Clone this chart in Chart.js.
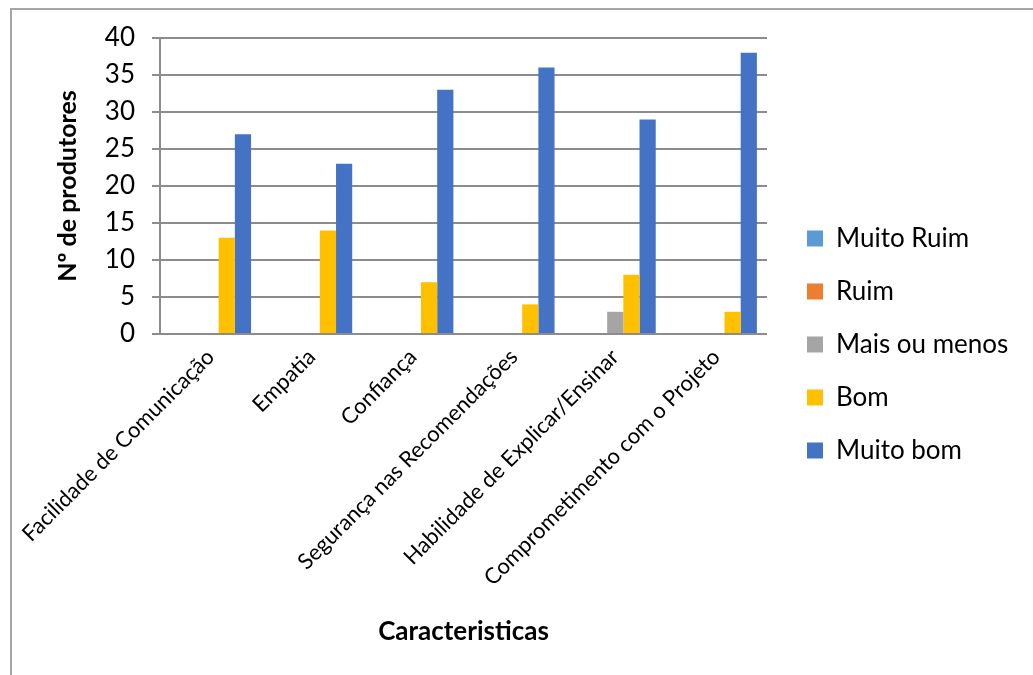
<!DOCTYPE html>
<html>
<head>
<meta charset="utf-8">
<script src="https://cdn.jsdelivr.net/npm/chart.js@4.4.0/dist/chart.umd.min.js"></script>
<style>
  html, body { margin: 0; padding: 0; background: #fff; }
  #wrap { position: relative; width: 1033px; height: 675px; overflow: hidden; }
  #frame { position: absolute; left: 10px; top: 8px; width: 1100px; height: 800px; border: 2px solid #a6a6a6; box-sizing: border-box; }
  canvas { position: absolute; left: 0; top: 0; }
</style>
</head>
<body>
<div id="wrap">
  <div id="frame"></div>
  <canvas id="chartGrafico" width="1033" height="675"></canvas>
</div>
<script>
const categorias = ['Facilidade de Comunicação', 'Empatia', 'Confiança', 'Segurança nas Recomendações', 'Habilidade de Explicar/Ensinar', 'Comprometimento com o Projeto'];
const muitoRuim = [0, 0, 0, 0, 0, 0];
const ruim = [0, 0, 0, 0, 0, 0];
const maisOuMenos = [0, 0, 0, 0, 3, 0];
const bom = [13, 14, 7, 4, 8, 3];
const muitoBom = [27, 23, 33, 36, 29, 38];

const cinza = '#8c8c8c';

// legenda com largura fixa, como no original
const legendaFixa = {
    id: 'legendaFixa',
    beforeInit(chart) {
        const fitOrig = chart.legend.fit;
        chart.legend.fit = function () {
            fitOrig.bind(this)();
            this.width = 266;
        };
    },
    afterLayout(chart) {
        chart.legend.left += 13;
        chart.legend.right += 13;
        chart.legend.top -= 12;
        chart.legend.bottom -= 12;
    }
};

const ctx = document.getElementById('chartGrafico').getContext('2d');
const grafico = new Chart(ctx, {
    type: 'bar',
    data: {
        labels: categorias,
        datasets: [
            { label: 'Muito Ruim', data: muitoRuim, backgroundColor: '#5B9BD5' },
            { label: 'Ruim', data: ruim, backgroundColor: '#ED7D31' },
            { label: 'Mais ou menos', data: maisOuMenos, backgroundColor: '#A5A5A5' },
            { label: 'Bom', data: bom, backgroundColor: '#FFC000' },
            { label: 'Muito bom', data: muitoBom, backgroundColor: '#4472C4' }
        ]
    },
    options: {
        responsive: false,
        animation: false,
        categoryPercentage: 0.8,
        barPercentage: 1.0,
        layout: {
            padding: { left: 10, top: 38, right: 0, bottom: 0 }
        },
        scales: {
            y: {
                min: 0,
                max: 40,
                ticks: {
                    stepSize: 5,
                    padding: 17,
                    color: '#000',
                    font: { family: 'Lato', size: 26 }
                },
                grid: {
                    color: cinza,
                    lineWidth: 2,
                    tickLength: 8
                },
                border: { display: true, color: cinza, width: 2 },
                title: {
                    display: true,
                    text: 'Nº de produtores',
                    color: '#000',
                    font: { family: 'Lato', size: 25, weight: 'bold' },
                    padding: { top: 43, bottom: 0 }
                },
                afterFit(scale) { scale.width = 150; }
            },
            x: {
                grid: { display: false },
                border: { display: false },
                ticks: {
                    maxRotation: 45,
                    minRotation: 45,
                    padding: 2,
                    color: '#000',
                    font: { family: 'Lato', size: 22 }
                },
                title: {
                    display: true,
                    text: 'Caracteristicas',
                    color: '#000',
                    font: { family: 'Lato', size: 26, weight: 'bold' },
                    padding: { top: 0, bottom: 28 }
                },
                afterFit(scale) { scale.height = 341; }
            }
        },
        plugins: {
            legend: {
                position: 'right',
                labels: {
                    boxWidth: 16,
                    boxHeight: 16,
                    padding: 27,
                    color: '#000',
                    font: { family: 'Lato', size: 26 }
                }
            },
            tooltip: { enabled: false }
        }
    },
    plugins: [legendaFixa]
});
</script>
</body>
</html>
